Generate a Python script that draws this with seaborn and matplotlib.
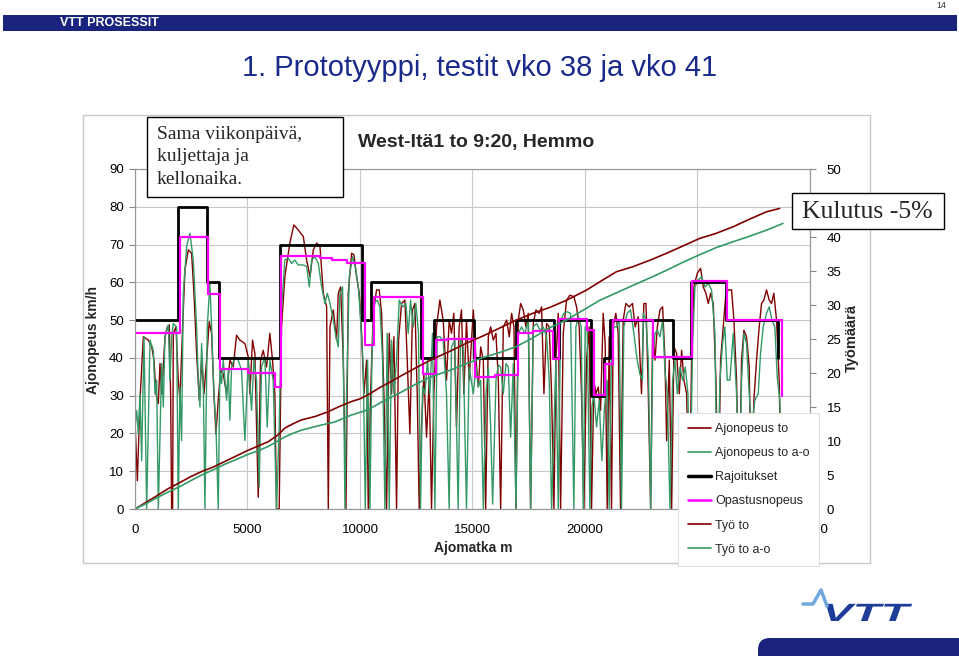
import matplotlib
matplotlib.use("Agg")
import matplotlib.pyplot as plt
import seaborn as sns
import pandas as pd
from matplotlib.patches import Rectangle, FancyBboxPatch, PathPatch
from matplotlib.lines import Line2D
from matplotlib.textpath import TextPath
from matplotlib.font_manager import FontProperties
from matplotlib.transforms import Affine2D, IdentityTransform

# ---------------- data (distance m, value) ----------------
ajonopeus_to = [
    (0, 23.5), (104, 7.5), (222, 28.8), (370, 45.6), (592, 44.7), (740, 43.0), (844, 39.4), (932, 30.5),
    (1036, 27.9), (1110, 38.5), (1184, 30.5), (1258, 37.6), (1332, 45.6), (1436, 48.2), (1524, 48.7),
    (1584, 30.0), (1628, 0), (1672, 0), (1702, 46.5), (1820, 48.2), (1924, 34.1), (1998, 28.8), (2116, 48.2),
    (2220, 63.3), (2368, 68.6), (2516, 67.7), (2620, 57.1), (2738, 41.2), (2856, 28.8), (2960, 39.4),
    (3064, 30.5), (3182, 39.4), (3300, 49.6), (3404, 46.5), (3508, 30.5), (3596, 19.9), (3700, 28.8),
    (3804, 36.7), (3922, 35.8), (4070, 30.5), (4218, 39.4), (4366, 37.6), (4514, 46.0), (4662, 44.7),
    (4884, 43.8), (5032, 40.3), (5106, 30.5), (5224, 44.7), (5328, 41.2), (5476, 3.1), (5580, 39.4),
    (5698, 42.0), (5846, 37.6), (5994, 46.5), (6112, 39.4), (6216, 30.5), (6290, 0), (6408, 0), (6512, 48.2),
    (6660, 61.5), (6882, 70.4), (7060, 75.2), (7252, 73.9), (7481, 72.1), (7629, 65.9), (7777, 61.5),
    (7925, 68.6), (8073, 70.4), (8221, 69.5), (8369, 57.1), (8517, 53.5), (8591, 0), (8665, 48.2),
    (8813, 52.7), (8961, 44.7), (9035, 57.1), (9139, 58.8), (9257, 39.4), (9375, 0), (9479, 57.1),
    (9627, 67.7), (9731, 67.3), (9849, 61.5), (9967, 57.1), (10071, 46.5), (10175, 30.5), (10293, 39.4),
    (10367, 0), (10471, 30.5), (10589, 51.8), (10737, 58.0), (10855, 58.0), (10959, 51.8), (11063, 30.5),
    (11181, 0), (11299, 46.5), (11403, 30.5), (11507, 45.6), (11625, 0), (11714, 44.7), (11847, 54.4),
    (11995, 55.3), (12099, 39.4), (12217, 19.9), (12335, 52.7), (12439, 54.4), (12543, 30.5), (12631, 0),
    (12735, 21.7), (12839, 35.8), (12957, 19.0), (13075, 34.1), (13179, 0), (13283, 30.5), (13401, 48.2),
    (13549, 55.3), (13697, 50.0), (13845, 34.1), (13963, 50.0), (14067, 46.5), (14171, 51.8), (14289, 21.7),
    (14407, 48.2), (14511, 52.7), (14615, 30.5), (14733, 50.0), (14851, 34.1), (15037, 52.7), (15155, 39.4),
    (15259, 32.3), (15363, 42.9), (15481, 39.4), (15585, 0), (15703, 45.6), (15807, 48.2), (15925, 44.7),
    (16043, 46.5), (16147, 34.1), (16251, 0), (16369, 48.2), (16517, 50.0), (16635, 45.6), (16739, 51.8),
    (16843, 48.2), (16931, 0), (17035, 50.0), (17139, 54.4), (17257, 52.7), (17375, 48.2), (17479, 51.8),
    (17583, 0), (17701, 49.1), (17819, 52.7), (17967, 51.8), (18071, 53.5), (18175, 30.5), (18293, 49.1),
    (18411, 48.2), (18515, 30.5), (18619, 0), (18707, 39.4), (18811, 51.8), (18915, 0), (19033, 46.5),
    (19181, 55.3), (19329, 56.6), (19507, 56.2), (19625, 53.5), (19743, 48.2), (19847, 30.5), (19951, 0),
    (20069, 39.4), (20187, 48.2), (20291, 0), (20395, 34.1), (20483, 30.5), (20587, 32.3), (20691, 26.1),
    (20809, 51.8), (20897, 43.8), (20987, 0), (21075, 45.6), (21179, 0), (21253, 48.2), (21371, 51.8),
    (21475, 46.5), (21579, 0), (21697, 50.0), (21815, 54.4), (21963, 53.5), (22111, 54.4), (22229, 48.2),
    (22363, 50.9), (22511, 30.5), (22615, 54.4), (22710, 54.4), (22814, 30.5), (22918, 0), (23006, 48.2),
    (23110, 39.4), (23214, 48.2), (23332, 52.7), (23450, 53.5), (23554, 39.4), (23628, 18.1), (23746, 39.4),
    (23850, 0), (23954, 42.9), (24072, 41.2), (24190, 30.5), (24294, 42.0), (24398, 34.1), (24516, 30.5),
    (24634, 0), (24738, 39.4), (24842, 58.8), (24990, 62.4), (25138, 63.7), (25256, 58.8), (25374, 57.1),
    (25478, 54.4), (25582, 57.1), (25700, 54.4), (25818, 34.1), (25922, 0), (26026, 39.4), (26144, 48.2),
    (26262, 57.1), (26366, 58.0), (26514, 58.0), (26618, 50.0), (26736, 34.1), (26854, 0), (26958, 39.4),
    (27062, 47.3), (27180, 45.6), (27298, 37.6), (27402, 0), (27506, 28.8), (27624, 39.4), (27742, 48.2),
    (27846, 54.4), (27950, 55.3), (28068, 58.0), (28186, 55.3), (28290, 54.4), (28394, 57.1), (28512, 50.0),
    (28630, 34.1), (28734, 0),
]

ajonopeus_to_ao = [
    (0, 21.7), (74, 26.1), (148, 19.9), (222, 30.5), (296, 12.8), (400, 45.6), (518, 0), (666, 44.7),
    (814, 42.0), (888, 30.5), (962, 34.1), (1036, 0), (1184, 38.5), (1258, 27.0), (1332, 45.6), (1480, 48.7),
    (1554, 34.1), (1628, 45.6), (1702, 49.1), (1850, 48.2), (1924, 0), (1998, 32.3), (2072, 18.1),
    (2146, 57.1), (2294, 69.5), (2442, 73.0), (2590, 65.9), (2738, 48.2), (2812, 34.1), (2886, 27.0),
    (2960, 43.8), (3034, 34.1), (3108, 0), (3212, 48.2), (3330, 59.7), (3404, 48.2), (3508, 30.5),
    (3596, 22.6), (3700, 0), (3774, 36.7), (3848, 33.2), (3922, 39.4), (4070, 28.8), (4144, 36.7),
    (4218, 23.5), (4292, 37.6), (4440, 40.3), (4588, 39.4), (4736, 36.7), (4884, 18.1), (5032, 39.4),
    (5180, 26.1), (5284, 39.4), (5402, 34.1), (5520, 5.8), (5624, 37.6), (5772, 40.3), (5876, 21.7),
    (5994, 39.4), (6142, 34.1), (6290, 0), (6408, 21.7), (6512, 52.7), (6660, 65.9), (6808, 66.4),
    (6956, 65.0), (7104, 65.9), (7252, 64.6), (7481, 64.6), (7629, 64.2), (7747, 58.8), (7851, 65.9),
    (7999, 66.8), (8147, 65.0), (8295, 58.8), (8443, 54.4), (8547, 57.1), (8665, 54.4), (8813, 50.0),
    (8931, 45.6), (9035, 42.9), (9109, 57.1), (9227, 58.8), (9331, 0), (9405, 30.5), (9523, 61.5),
    (9671, 66.8), (9819, 63.3), (9937, 58.0), (10027, 50.0), (10145, 37.6), (10234, 0), (10337, 39.4),
    (10441, 0), (10530, 39.4), (10619, 54.4), (10767, 55.3), (10885, 53.5), (11003, 39.4), (11107, 0),
    (11211, 46.5), (11299, 0), (11403, 44.7), (11507, 30.5), (11625, 39.4), (11743, 55.3), (11891, 53.5),
    (12039, 54.4), (12143, 46.5), (12247, 55.3), (12365, 48.2), (12483, 54.4), (12601, 46.5), (12690, 0),
    (12779, 32.3), (12883, 30.5), (13001, 39.4), (13105, 30.5), (13223, 46.5), (13327, 0), (13431, 45.6),
    (13549, 45.6), (13697, 44.7), (13845, 30.5), (13963, 0), (14067, 42.9), (14215, 44.7), (14363, 0),
    (14467, 44.7), (14585, 42.9), (14733, 0), (14851, 37.6), (15037, 30.5), (15155, 37.6), (15259, 32.3),
    (15363, 34.1), (15481, 0), (15599, 30.5), (15703, 37.6), (15807, 21.7), (15895, 1.3), (16043, 34.1),
    (16147, 38.1), (16251, 37.6), (16369, 30.5), (16487, 38.5), (16591, 37.6), (16695, 19.0), (16813, 38.5),
    (16931, 0), (17035, 46.5), (17183, 48.2), (17331, 46.5), (17479, 50.0), (17583, 0), (17701, 48.2),
    (17849, 49.1), (17997, 47.3), (18145, 48.2), (18293, 45.6), (18411, 34.1), (18515, 0), (18619, 21.7),
    (18707, 39.4), (18811, 0), (18915, 50.0), (19063, 51.8), (19211, 52.2), (19359, 51.8), (19507, 0),
    (19596, 48.2), (19714, 50.9), (19832, 48.2), (19921, 0), (20010, 48.2), (20099, 47.3), (20217, 0),
    (20306, 27.0), (20395, 30.5), (20513, 21.7), (20631, 28.8), (20749, 12.8), (20868, 27.0), (20987, 34.1),
    (21075, 0), (21179, 42.0), (21283, 48.2), (21401, 48.2), (21519, 50.0), (21623, 0), (21727, 48.2),
    (21875, 51.8), (22023, 52.7), (22171, 46.5), (22319, 39.4), (22437, 35.8), (22555, 34.1), (22592, 51.8),
    (22710, 50.0), (22814, 39.4), (22918, 0), (23006, 39.4), (23110, 46.5), (23214, 47.3), (23332, 45.6),
    (23450, 50.0), (23554, 36.7), (23658, 30.5), (23776, 0), (23894, 34.1), (23998, 39.4), (24102, 30.5),
    (24220, 37.6), (24338, 34.1), (24457, 37.6), (24575, 30.5), (24664, 0), (24782, 43.8), (24886, 58.8),
    (25034, 60.6), (25182, 61.5), (25330, 58.8), (25478, 59.7), (25626, 58.0), (25774, 46.5), (25878, 0),
    (25996, 34.1), (26114, 43.8), (26218, 48.2), (26322, 34.1), (26440, 34.1), (26588, 46.5), (26736, 30.5),
    (26854, 0), (26958, 34.1), (27062, 46.5), (27180, 43.8), (27298, 30.5), (27402, 21.7), (27550, 28.8),
    (27698, 30.5), (27802, 41.2), (27920, 48.2), (28068, 51.8), (28186, 53.5), (28305, 50.0), (28438, 48.2),
    (28542, 35.0), (28660, 28.8), (28778, 0),
]

# speed limits (step starts) and guidance speed (step starts); last point closes the step
rajoitukset = [
    (0, 50), (1930, 80), (3220, 60), (3740, 40), (6430, 70), (10100, 50), (10500, 60), (12700, 40),
    (13290, 50), (15080, 40), (16930, 50), (18600, 40), (18840, 50), (20260, 30), (20860, 40),
    (21110, 50), (23890, 40), (24720, 60), (26250, 50), (28590, 40), (28590, 40),
]
opastusnopeus = [
    (0, 46.5), (2000, 72.0), (3230, 57.0), (3770, 37.0), (5030, 36.0), (6220, 32.3), (6510, 67.0),
    (8220, 66.4), (8740, 65.9), (9400, 65.2), (10220, 43.4), (10620, 56.0), (11770, 56.2), (12810, 35.8),
    (13370, 44.7), (13850, 45.1), (15100, 35.0), (16000, 35.4), (17040, 46.5), (17700, 47.2),
    (18590, 39.8), (18850, 50.3), (20070, 47.3), (20400, 30.1), (20880, 38.3), (21250, 50.0),
    (23040, 40.3), (24740, 60.4), (26290, 50.0), (28760, 30.0), (28760, 30.0),
]

# work (right axis)
tyo_to = [
    (0, 0), (500, 1.0), (1000, 2.0), (1480, 3.0), (2000, 3.9), (2500, 4.8), (2960, 5.5), (3500, 6.2),
    (4000, 7.0), (4440, 7.7), (5000, 8.6), (5500, 9.3), (5920, 9.9), (6360, 10.9), (6660, 11.9),
    (7000, 12.5), (7400, 13.1), (8000, 13.6), (8580, 14.3), (9100, 15.1), (9620, 15.8), (10000, 16.2),
    (10360, 16.8), (10900, 17.9), (11300, 18.6), (11780, 19.5), (12500, 20.8), (13200, 22.0),
    (14000, 23.2), (14740, 24.4), (15500, 25.5), (16200, 26.6), (16960, 27.8), (17700, 28.8),
    (18400, 29.6), (19180, 30.7), (20070, 32.2), (20700, 33.5), (21400, 34.9), (22100, 35.6),
    (22900, 36.6), (23620, 37.6), (24300, 38.6), (25100, 39.8), (25800, 40.5), (26580, 41.5),
    (27300, 42.6), (28060, 43.7), (28650, 44.2),
]
tyo_to_ao = [
    (0, 0), (500, 0.8), (1000, 1.7), (1480, 2.5), (2000, 3.3), (2500, 4.2), (2960, 5.0), (3500, 5.8),
    (4000, 6.6), (4440, 7.2), (5000, 8.0), (5500, 8.6), (5920, 9.2), (6300, 9.9), (6660, 10.6),
    (7000, 11.1), (7400, 11.6), (8100, 12.2), (8880, 12.8), (9600, 13.8), (10360, 14.6), (11000, 15.8),
    (11840, 17.2), (12500, 18.4), (13200, 19.5), (14000, 20.4), (14740, 21.4), (15500, 22.3),
    (16200, 23.0), (16960, 23.9), (17700, 25.2), (18400, 26.6), (19180, 27.8), (19900, 29.2),
    (20660, 30.7), (21400, 31.8), (22140, 32.9), (22900, 34.0), (23620, 35.1), (24300, 36.2),
    (25100, 37.4), (25800, 38.4), (26580, 39.3), (27300, 40.1), (28060, 41.0), (28800, 42.0),
]

x_ticks = [0, 5000, 10000, 15000, 20000, 25000, 30000]
y_left_ticks = [0, 10, 20, 30, 40, 50, 60, 70, 80, 90]
y_right_ticks = [0, 5, 10, 15, 20, 25, 30, 35, 40, 45, 50]
legend_labels = ["Ajonopeus to", "Ajonopeus to a-o", "Rajoitukset", "Opastusnopeus", "Työ to", "Työ to a-o"]

RED = "#800000"
GREEN = "#339966"
MAGENTA = "#ff00ff"
NAVY = "#1a237e"

# ---------------- figure ----------------
sns.set_theme(style="white")
plt.rcParams["font.family"] = ["Liberation Sans", "DejaVu Sans"]

W, H = 959, 656
fig = plt.figure(figsize=(W / 100, H / 100), dpi=100)
fig.patch.set_facecolor("white")


def fx(px):
    return px / W


def fy(py):
    return 1 - py / H


def df(rows):
    return pd.DataFrame(rows, columns=["m", "v"])


ax = fig.add_axes([fx(135), fy(509), fx(810) - fx(135), fy(169) - fy(509)])
ax.set_facecolor("white")

sns.lineplot(data=df(ajonopeus_to), x="m", y="v", ax=ax, color=RED, lw=1.0,
             estimator=None, sort=False, legend=False, zorder=2)
sns.lineplot(data=df(ajonopeus_to_ao), x="m", y="v", ax=ax, color=GREEN, lw=1.0,
             estimator=None, sort=False, legend=False, zorder=2.1)
sns.lineplot(data=df(rajoitukset), x="m", y="v", ax=ax, color="black", lw=2.0,
             estimator=None, sort=False, legend=False, drawstyle="steps-post", zorder=3)
sns.lineplot(data=df(opastusnopeus), x="m", y="v", ax=ax, color=MAGENTA, lw=1.6,
             estimator=None, sort=False, legend=False, drawstyle="steps-post", zorder=3.1)

ax.set_xlim(0, 30000)
ax.set_ylim(0, 90)
ax.set_xticks(x_ticks)
ax.set_xticklabels([str(t) for t in x_ticks])
ax.set_yticks(y_left_ticks)
ax.grid(True, color="#c8c8c8", lw=0.8)
ax.set_axisbelow(True)
ax.set_xlabel("")
ax.set_ylabel("")
ax.tick_params(axis="x", length=0, pad=11, labelsize=9.5, labelcolor="black")
ax.tick_params(axis="y", left=True, length=4, width=0.8, color="#888888", pad=4,
               labelsize=9.5, labelcolor="black", direction="out")

ax2 = ax.twinx()
sns.lineplot(data=df(tyo_to), x="m", y="v", ax=ax2, color=RED, lw=1.2,
             estimator=None, sort=False, legend=False)
sns.lineplot(data=df(tyo_to_ao), x="m", y="v", ax=ax2, color=GREEN, lw=1.2,
             estimator=None, sort=False, legend=False)
ax2.set_ylim(0, 50)
ax2.set_yticks(y_right_ticks)
# the "45" label sits under the "Kulutus -5%" box in the original, so it stays blank
ax2.set_yticklabels(["" if t == 45 else str(t) for t in y_right_ticks])
ax2.set_xlim(0, 30000)
ax2.set_ylabel("")
ax2.set_xlabel("")
ax2.grid(False)
ax2.tick_params(axis="y", right=True, length=4, width=0.8, color="#888888", pad=8,
                labelsize=9.5, labelcolor="black", direction="out")

for a in (ax, ax2):
    for s in a.spines.values():
        s.set_color("#999999")
        s.set_linewidth(0.8)

# axis titles
fig.text(fx(93), fy(340), "Ajonopeus km/h", rotation=90, ha="center", va="center",
         fontsize=10, fontweight="bold")
fig.text(fx(852), fy(338), "Työmäärä", rotation=90, ha="center", va="center",
         fontsize=10.5, fontweight="bold")
fig.text(fx(473), fy(548), "Ajomatka m", ha="center", va="center", fontsize=10, fontweight="bold")
fig.text(fx(476), fy(143), "West-Itä1 to 9:20, Hemmo", ha="center", va="center",
         fontsize=14, fontweight="bold")

# chart outer frame
fig.add_artist(Rectangle((fx(83), fy(563)), fx(870) - fx(83), fy(115) - fy(563),
                         transform=fig.transFigure, fill=False, edgecolor="#c8c8c8", lw=1, zorder=0))

# text boxes
fig.add_artist(Rectangle((fx(147), fy(197)), fx(343) - fx(147), fy(117) - fy(197),
                         transform=fig.transFigure, facecolor="white", edgecolor="black", lw=1, zorder=6))
fig.text(fx(157), fy(157), "Sama viikonpäivä,\nkuljettaja ja\nkellonaika.", ha="left", va="center",
         fontsize=14, family=["Liberation Serif", "DejaVu Serif"], linespacing=1.45, zorder=7)
fig.add_artist(Rectangle((fx(792), fy(229)), fx(944) - fx(792), fy(193) - fy(229),
                         transform=fig.transFigure, facecolor="white", edgecolor="black", lw=1, zorder=6))
fig.text(fx(802), fy(212), "Kulutus -5%", ha="left", va="center",
         fontsize=18.5, family=["Liberation Serif", "DejaVu Serif"], zorder=7)

# legend
handles = [
    Line2D([], [], color=RED, lw=1.2),
    Line2D([], [], color=GREEN, lw=1.2),
    Line2D([], [], color="black", lw=2.5),
    Line2D([], [], color=MAGENTA, lw=1.8),
    Line2D([], [], color=RED, lw=1.2),
    Line2D([], [], color=GREEN, lw=1.2),
]
leg = fig.legend(handles, legend_labels, loc="upper left", bbox_to_anchor=(fx(678), fy(413)),
                 bbox_transform=fig.transFigure, frameon=True, fancybox=False, edgecolor="#e0e0e0",
                 facecolor="white", framealpha=1, fontsize=9, handlelength=1.8, handletextpad=0.35,
                 labelspacing=0.97, borderpad=0.8, borderaxespad=0)
leg.get_frame().set_linewidth(0.8)

# slide header
fig.add_artist(Rectangle((fx(3), fy(31)), fx(957) - fx(3), fy(15) - fy(31),
                         transform=fig.transFigure, facecolor=NAVY, edgecolor="none", zorder=1))
fig.text(fx(60), fy(23.5), "VTT PROSESSIT", ha="left", va="center", fontsize=9,
         fontweight="bold", color="white", zorder=2)
fig.text(fx(941), fy(5), "14", ha="center", va="center", fontsize=6.5, color="#333333")
fig.text(fx(480), fy(68), "1. Prototyyppi, testit vko 38 ja vko 41", ha="center", va="center",
         fontsize=21, color="#1a2a8a")

# VTT logo (decoration)
fig.add_artist(FancyBboxPatch((758, -20), 240, 38, boxstyle="round,pad=0,rounding_size=12",
                              transform=IdentityTransform(), facecolor=NAVY, edgecolor="none"))
wave = Line2D([803, 813, 821, 827], [H - 604, H - 604, H - 590, H - 606],
              transform=IdentityTransform(), color="#6fa8dc", lw=2.5)
fig.add_artist(wave)
tp = TextPath((0, 0), "VTT", size=1, prop=FontProperties(family="Liberation Sans", weight="bold", style="italic"))
tr = Affine2D().scale(46, 25).translate(822, H - 621)
fig.add_artist(PathPatch(tr.transform_path(tp), transform=IdentityTransform(),
                         facecolor="#1f3c99", edgecolor="none"))

fig.savefig("out.png", dpi=100)
